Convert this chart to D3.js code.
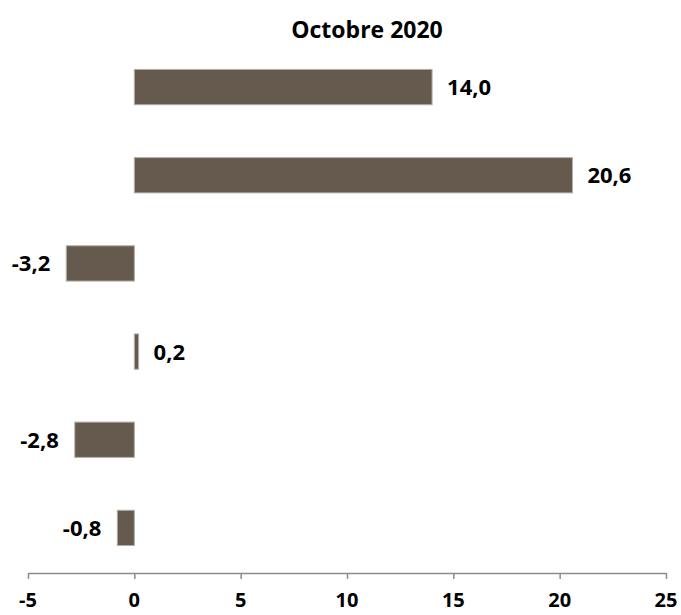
<!DOCTYPE html>
<html>
<head>
<meta charset="utf-8">
<script src="https://cdn.jsdelivr.net/npm/d3@7"></script>
<style>
  html, body { margin: 0; padding: 0; background: #fff; overflow: hidden; }
  svg { display: block; font-family: "Open Sans", "Liberation Sans", sans-serif; }
  .bold-lbl { font-weight: 700; fill: #000; }
</style>
</head>
<body>
<svg id="chart" width="681" height="615"></svg>
<script>
const title = "Octobre 2020";
const categories = ["A", "B", "C", "D", "E", "F"];
const values = [14.0, 20.6, -3.2, 0.2, -2.8, -0.8];
const tickValues = [-5, 0, 5, 10, 15, 20, 25];

const svg = d3.select("#chart");
const x = d3.scaleLinear().domain([-5, 25]).range([28, 666]);
const y = d3.scaleBand().domain(categories).range([43, 572]).paddingInner(0.6).paddingOuter(0.3);

const fmt = v => d3.format(".1f")(v).replace(".", ",").replace("\u2212", "-");

svg.append("text")
  .attr("class", "bold-lbl")
  .attr("x", 367).attr("y", 38)
  .attr("text-anchor", "middle")
  .style("font-size", "23px")
  .text(title);

svg.selectAll("rect.bar").data(values).enter().append("rect")
  .attr("class", "bar")
  .attr("x", d => x(Math.min(0, d)))
  .attr("width", d => Math.abs(x(d) - x(0)))
  .attr("y", (d, i) => y(categories[i]))
  .attr("height", y.bandwidth())
  .attr("fill", "#665a4e")
  .attr("stroke", "#b3ada5").attr("stroke-width", 1);

svg.selectAll("text.lbl").data(values).enter().append("text")
  .attr("class", "lbl bold-lbl")
  .attr("x", d => d >= 0 ? x(d) + 15 : x(d) - 16)
  .attr("y", (d, i) => y(categories[i]) + y.bandwidth() / 2)
  .attr("dy", "0.36em")
  .attr("text-anchor", d => d >= 0 ? "start" : "end")
  .style("font-size", "22px")
  .text(fmt);

const axis = svg.append("g")
  .attr("transform", "translate(0,573)")
  .call(d3.axisBottom(x).tickValues(tickValues).tickSize(6).tickSizeOuter(0).tickFormat(""));
axis.select(".domain").attr("stroke", "#8c8c8c").attr("stroke-width", 1.5);
axis.selectAll(".tick line").attr("stroke", "#8c8c8c").attr("stroke-width", 1.5);

svg.selectAll("text.tl").data(tickValues).enter().append("text")
  .attr("class", "tl bold-lbl")
  .attr("x", d => x(d))
  .attr("y", 607)
  .attr("text-anchor", "middle")
  .style("font-size", "20px")
  .text(d => String(d));
</script>
</body>
</html>
